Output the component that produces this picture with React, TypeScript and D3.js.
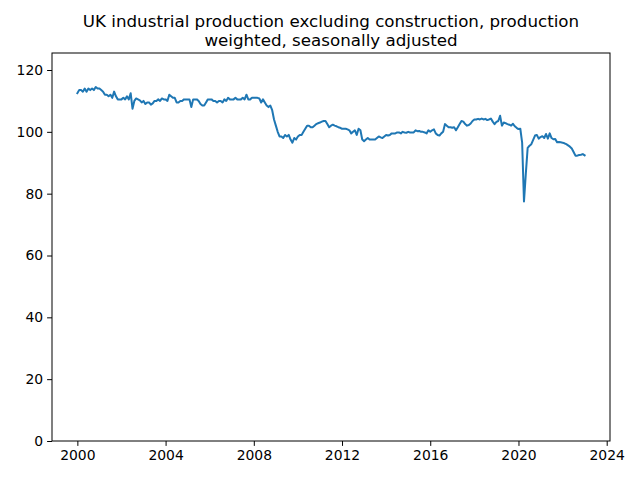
import { useEffect, useRef } from "react";
import * as d3 from "d3";

const startYear = 2000;
const production = [
  // 2000
  112.5, 113.5, 113.5, 113, 114, 113, 114, 113.5, 114, 113.5, 114.5, 114,
  // 2001
  114, 113.5, 113, 112, 112, 111.5, 112, 111, 113, 111.5, 110.5, 110.5,
  // 2002
  110.5, 111, 110.5, 111.5, 110.5, 112.5, 107.5, 110, 110.8, 110.5, 110.2, 109.5,
  // 2003
  110, 109, 109.5, 109.5, 108.8, 109.2, 110, 110, 110.5, 110, 110.8, 110.5,
  // 2004
  110.5, 110, 112, 111.5, 111, 111, 109.5, 109.5, 110, 110, 110.5, 110.5,
  // 2005
  110.5, 110.5, 108, 110.5, 110.5, 110.5, 110, 109, 108.5, 108.5, 109.5, 110.5,
  // 2006
  110.5, 110.5, 110, 110, 109.5, 110, 110, 109.5, 110.5, 110, 111, 110.5,
  // 2007
  110.5, 110.5, 111, 110.5, 110.5, 110.5, 111, 110.5, 112, 110.5, 110.5, 111,
  // 2008
  111, 111, 111, 110.8, 109.5, 110.5, 109.5, 108.5, 108, 108.5, 107, 104,
  // 2009
  102, 100, 98.5, 98.5, 98, 99, 98.5, 99, 97.5, 96.5, 98, 97.5,
  // 2010
  98.5, 99, 99, 100, 101, 102, 102, 101.5, 101.5, 102, 102.5, 102.8,
  // 2011
  103, 103.3, 103.5, 103.5, 102.5, 101.5, 102, 102.3, 102, 101.8, 101.5, 101.3,
  // 2012
  101, 101, 101, 100.8, 100.5, 99.5, 100, 100.5, 99, 101, 100.5, 97.5,
  // 2013
  97, 97.5, 98, 97.5, 97.5, 97.5, 97.5, 98, 98.5, 98.2, 98, 98.5,
  // 2014
  99, 98.8, 99, 99.5, 99.5, 99.5, 99.8, 99.8, 99.5, 100, 99.8, 99.7,
  // 2015
  100, 99.8, 99.8, 99.8, 100.5, 100.2, 100.3, 100, 100, 99.8, 99.5, 100.5,
  // 2016
  100, 100.5, 100.8, 99.5, 99, 98.8, 99.5, 100, 102.5, 102, 101.5, 101.5,
  // 2017
  101.3, 101.5, 100.5, 101.5, 102.5, 103.5, 103.3, 102.5, 102, 102.2, 102.7, 103.5,
  // 2018
  104, 104, 104.2, 104, 104.3, 104, 104.2, 103.8, 104, 104.3, 103.3, 102.5,
  // 2019
  103.2, 103.5, 105.2, 102, 103, 102.8, 102.5, 102.3, 102, 102.6, 101.8, 101.3,
  // 2020
  100.9, 101, 96.5, 77.5, 86.5, 94.8, 95.5, 96, 97.4, 98.8, 99, 97.8,
  // 2021
  98.3, 98.6, 98, 99.3, 97.8, 99.5, 98, 97.6, 97.7, 96.6, 96.7, 96.6,
  // 2022
  96.5, 96.3, 96, 95.6, 95.2, 94.6, 93.5, 92.3, 92.3, 92.5, 92.6, 92.8,
  // 2023
  92.4,
];
const xTicks = [2000, 2004, 2008, 2012, 2016, 2020, 2024];
const yTicks = [0, 20, 40, 60, 80, 100, 120];
const titleLines = [
  "UK industrial production excluding construction, production",
  "weighted, seasonally adjusted",
];

const App = () => {
  const svgRef = useRef(null);

  useEffect(() => {
    const W = 640;
    const H = 480;
    const m = { left: 52, right: 30, top: 53, bottom: 39 };
    const font = "DejaVu Sans, sans-serif";

    const data = production.map((v, i) => ({ t: startYear + i / 12, v }));

    const svg = d3.select(svgRef.current);
    svg.selectAll("*").remove();
    svg.attr("width", W).attr("height", H);
    svg.append("rect").attr("width", W).attr("height", H).attr("fill", "#fff");

    const t0 = data[0].t;
    const t1 = data[data.length - 1].t;
    const pad = (t1 - t0) * 0.05;
    const x = d3.scaleLinear().domain([t0 - pad, t1 + pad]).range([m.left, W - m.right]);
    const y = d3.scaleLinear().domain([0, 125.5]).range([H - m.bottom, m.top]);

    const line = d3
      .line<{ t: number; v: number }>()
      .x((d) => x(d.t))
      .y((d) => y(d.v));

    svg
      .append("path")
      .datum(data)
      .attr("d", line)
      .attr("fill", "none")
      .attr("stroke", "#1f77b4")
      .attr("stroke-width", 2)
      .attr("stroke-linejoin", "round")
      .attr("stroke-linecap", "square");

    // axes
    const gx = svg
      .append("g")
      .attr("transform", `translate(0,${H - m.bottom})`)
      .call(d3.axisBottom(x).tickValues(xTicks).tickFormat(d3.format("d")).tickSizeOuter(0).tickSize(4.9).tickPadding(4));
    const gy = svg
      .append("g")
      .attr("transform", `translate(${m.left},0)`)
      .call(d3.axisLeft(y).tickValues(yTicks).tickSizeOuter(0).tickSize(4.9).tickPadding(4));
    [gx, gy].forEach((g) => {
      g.select(".domain").remove();
      g.selectAll("line").attr("stroke", "#000").attr("stroke-width", 1);
      g.selectAll("text").attr("fill", "#000").style("font-family", font).style("font-size", "13.9px");
    });

    svg
      .append("rect")
      .attr("x", m.left)
      .attr("y", m.top)
      .attr("width", W - m.left - m.right)
      .attr("height", H - m.top - m.bottom)
      .attr("fill", "none")
      .attr("stroke", "#000")
      .attr("stroke-width", 1);

    // title
    svg
      .append("g")
      .selectAll("text")
      .data(titleLines)
      .enter()
      .append("text")
      .attr("x", (m.left + W - m.right) / 2)
      .attr("y", (_, i) => 27 + i * 18.5)
      .attr("text-anchor", "middle")
      .style("font-family", font)
      .style("font-size", "16.7px")
      .text((d) => d);
  }, []);

  return (
    <div style={{ position: "absolute", left: 0, top: 0 }}>
      <svg ref={svgRef}></svg>
    </div>
  );
};

export default App;
